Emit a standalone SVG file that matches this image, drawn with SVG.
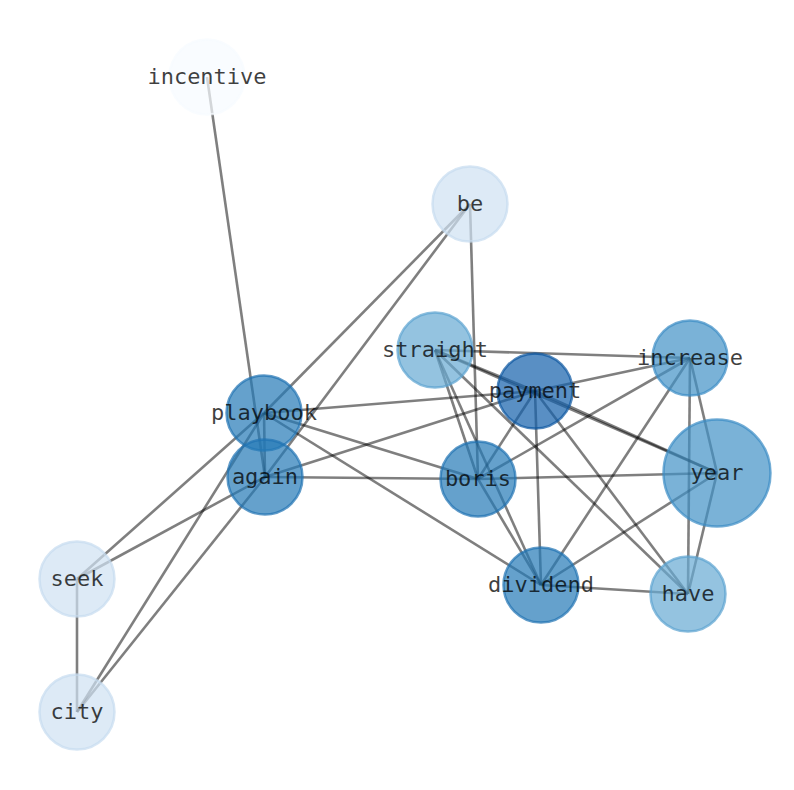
<svg xmlns="http://www.w3.org/2000/svg" width="794" height="790" viewBox="0 0 794 790">
<style>
.e{stroke:#000;stroke-opacity:0.5;stroke-width:2.6;fill:none}
.n circle{stroke-width:2.5;fill-opacity:0.7;stroke-opacity:0.7}
.n text{font-family:"DejaVu Sans Mono","Liberation Mono",monospace;font-size:22px;fill:#000;fill-opacity:0.75;text-anchor:middle;dominant-baseline:central}
.c0{fill:#f7fbff;stroke:#f7fbff}
.c1{fill:#cfe1f2;stroke:#c6dbef}
.c2{fill:#66a9d3;stroke:#5ba3d0}
.c3{fill:#4292c6;stroke:#3a8cc4}
.c4{fill:#2379b6;stroke:#1f72b2}
.c5{fill:#135fab;stroke:#0c56a0}
</style>
<rect width="794" height="790" fill="#fff"/>
<g id="edges">
<line class="e" x1="207" y1="77" x2="265" y2="477"/>
<line class="e" x1="470" y1="204" x2="264" y2="413"/>
<line class="e" x1="470" y1="204" x2="265" y2="477"/>
<line class="e" x1="470" y1="204" x2="478" y2="479"/>
<line class="e" x1="264" y1="413" x2="265" y2="477"/>
<line class="e" x1="264" y1="413" x2="77" y2="579"/>
<line class="e" x1="264" y1="413" x2="77" y2="712"/>
<line class="e" x1="264" y1="413" x2="535" y2="391"/>
<line class="e" x1="264" y1="413" x2="478" y2="479"/>
<line class="e" x1="264" y1="413" x2="541" y2="585"/>
<line class="e" x1="265" y1="477" x2="77" y2="579"/>
<line class="e" x1="265" y1="477" x2="77" y2="712"/>
<line class="e" x1="265" y1="477" x2="478" y2="479"/>
<line class="e" x1="265" y1="477" x2="535" y2="391"/>
<line class="e" x1="77" y1="579" x2="77" y2="712"/>
<line class="e" x1="435" y1="350" x2="690" y2="358"/>
<line class="e" x1="435" y1="350" x2="535" y2="391"/>
<line class="e" x1="435" y1="350" x2="717" y2="473"/>
<line class="e" x1="435" y1="350" x2="478" y2="479"/>
<line class="e" x1="435" y1="350" x2="541" y2="585"/>
<line class="e" x1="435" y1="350" x2="688" y2="594"/>
<line class="e" x1="535" y1="391" x2="690" y2="358"/>
<line class="e" x1="535" y1="391" x2="717" y2="473"/>
<line class="e" x1="535" y1="391" x2="478" y2="479"/>
<line class="e" x1="535" y1="391" x2="541" y2="585"/>
<line class="e" x1="535" y1="391" x2="688" y2="594"/>
<line class="e" x1="690" y1="358" x2="478" y2="479"/>
<line class="e" x1="690" y1="358" x2="541" y2="585"/>
<line class="e" x1="690" y1="358" x2="717" y2="473"/>
<line class="e" x1="690" y1="358" x2="688" y2="594"/>
<line class="e" x1="717" y1="473" x2="478" y2="479"/>
<line class="e" x1="717" y1="473" x2="541" y2="585"/>
<line class="e" x1="717" y1="473" x2="688" y2="594"/>
<line class="e" x1="478" y1="479" x2="541" y2="585"/>
<line class="e" x1="541" y1="585" x2="688" y2="594"/>
</g>
<g id="node-incentive" class="n"><circle class="c0" cx="207" cy="77" r="37.5"/><text x="207" y="76">incentive</text></g>
<g id="node-be" class="n"><circle class="c1" cx="470" cy="204" r="37.5"/><text x="470" y="203">be</text></g>
<g id="node-straight" class="n"><circle class="c2" cx="435" cy="350" r="37.5"/><text x="435" y="349">straight</text></g>
<g id="node-increase" class="n"><circle class="c3" cx="690" cy="358" r="37.5"/><text x="690" y="357">increase</text></g>
<g id="node-year" class="n"><circle class="c3" cx="717" cy="473" r="53.5"/><text x="717" y="472">year</text></g>
<g id="node-playbook" class="n"><circle class="c4" cx="264" cy="413" r="37.5"/><text x="264" y="412">playbook</text></g>
<g id="node-again" class="n"><circle class="c4" cx="265" cy="477" r="37.5"/><text x="265" y="476">again</text></g>
<g id="node-payment" class="n"><circle class="c5" cx="535" cy="391" r="37.5"/><text x="535" y="390">payment</text></g>
<g id="node-boris" class="n"><circle class="c4" cx="478" cy="479" r="37.5"/><text x="478" y="478">boris</text></g>
<g id="node-seek" class="n"><circle class="c1" cx="77" cy="579" r="37.5"/><text x="77" y="578">seek</text></g>
<g id="node-city" class="n"><circle class="c1" cx="77" cy="712" r="37.5"/><text x="77" y="711">city</text></g>
<g id="node-dividend" class="n"><circle class="c4" cx="541" cy="585" r="37.5"/><text x="541" y="584">dividend</text></g>
<g id="node-have" class="n"><circle class="c2" cx="688" cy="594" r="37.5"/><text x="688" y="593">have</text></g>
</svg>
